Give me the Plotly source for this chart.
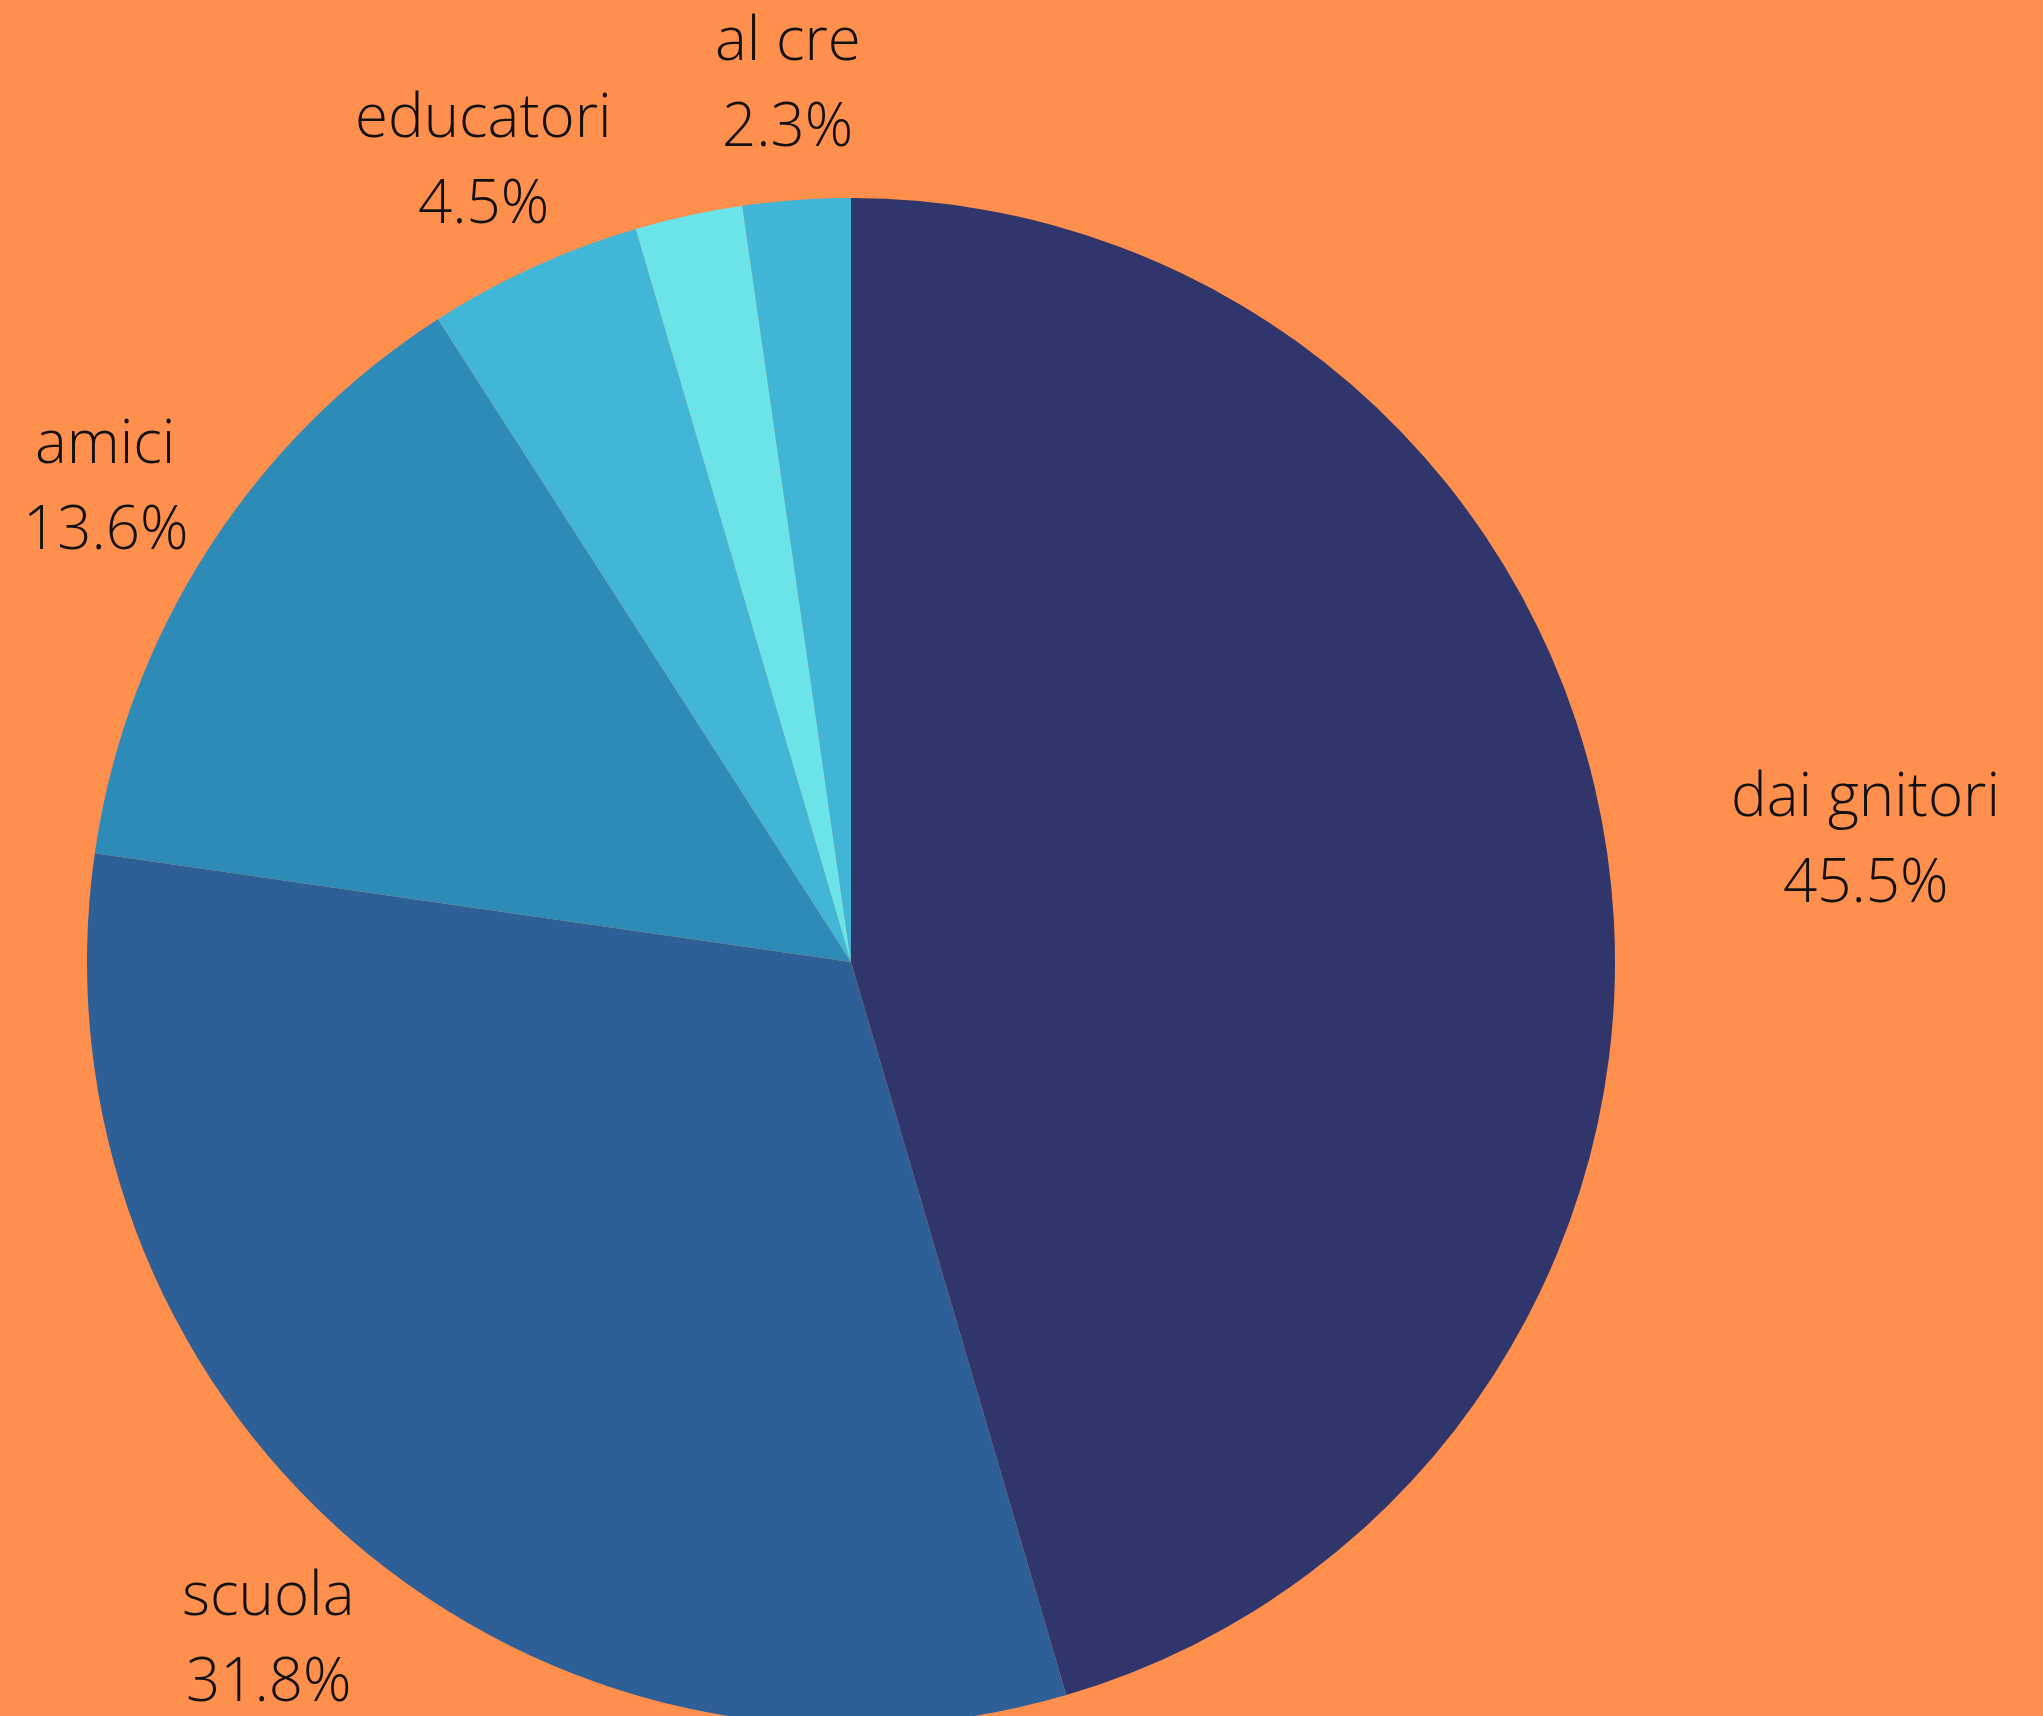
import math
import plotly.graph_objects as go

# ---- data ----
labels = ["dai gnitori", "scuola", "amici", "educatori", " ", "al cre"]
values = [20, 14, 6, 2, 1, 1]
colors = ["#30356B", "#2E5F97", "#2E8BB8", "#42B6D6", "#6AE4E8", "#40B5D5"]
label_dist = [1.158, 1.165, 1.16, 1.158, None, 1.158]  # label distance from centre, in radii
label_shift = [139, 0, 0, 0, None, 0]  # extra horizontal push (px) for labels beside the pie

W, H = 2043, 1924
BG = "#FF8F4D"
cx, cy, R = 851, 962, 764  # pie geometry in pixels (from the domain below)
LINE_HALF = 43  # half the distance between the two text lines, px

fig = go.Figure(go.Pie(
    labels=labels,
    values=values,
    marker=dict(colors=colors, line=dict(width=0)),
    sort=False,
    direction="clockwise",
    rotation=0,
    textinfo="none",
    hoverinfo="label+percent",
    showlegend=False,
    domain=dict(x=[(cx - R) / W, (cx + R) / W], y=[0, 1]),
))

total = sum(values)
cum = 0
annotations = []
font = dict(family="Open Sans", size=60, color="#111111", weight=300)
for lab, v, k, sh in zip(labels, values, label_dist, label_shift):
    mid = (cum + v / 2) / total * 2 * math.pi
    cum += v
    if not lab.strip():
        continue
    dist = R * k
    px = cx + dist * math.sin(mid) + sh
    py = cy - dist * math.cos(mid)
    for txt, dy in ((lab, -LINE_HALF), (f"{v / total * 100:.1f}%", LINE_HALF)):
        annotations.append(dict(
            x=px / W, y=1 - (py + dy) / H, xref="paper", yref="paper",
            xanchor="center", yanchor="middle", showarrow=False, align="center",
            text=txt, font=font,
        ))

fig.update_layout(
    width=W, height=H,
    margin=dict(l=0, r=0, t=0, b=0),
    paper_bgcolor=BG, plot_bgcolor=BG,
    annotations=annotations,
)

fig.write_html(
    "out.html",
    config={"displayModeBar": False},
    post_script="document.body.style.margin='0';document.body.style.background='%s';document.body.style.overflow='hidden';" % BG,
)
